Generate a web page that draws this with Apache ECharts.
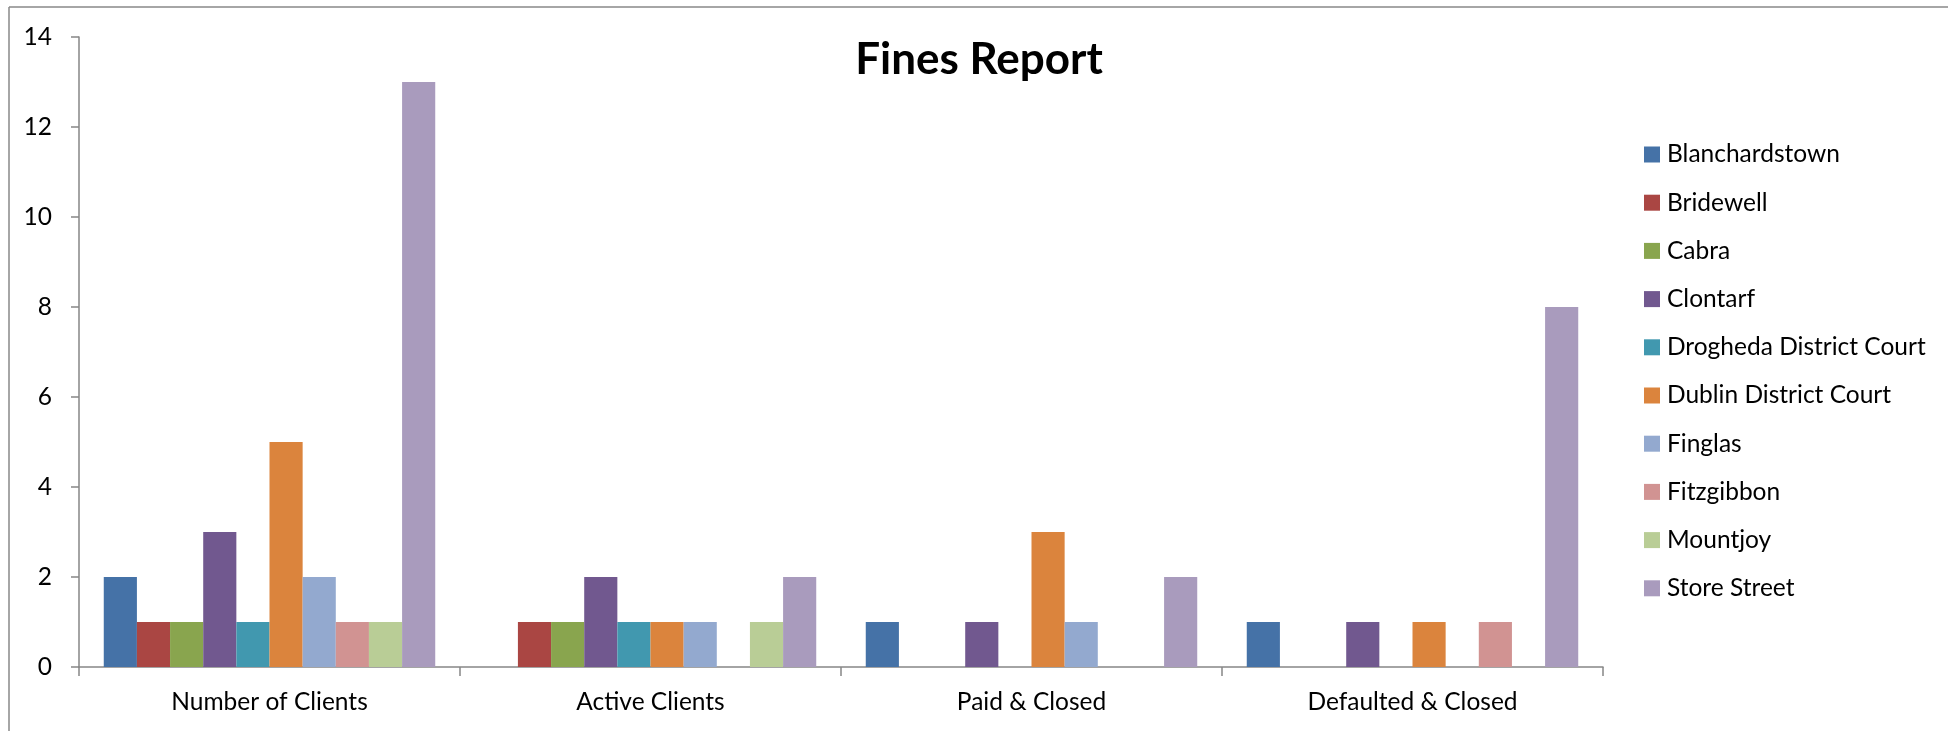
<!DOCTYPE html>
<html>
<head>
<meta charset="utf-8">
<script src="https://cdn.jsdelivr.net/npm/echarts@6/dist/echarts.min.js"></script>
<style>html,body{margin:0;padding:0;background:#fff;}#c{width:1948px;height:731px;}</style>
</head>
<body>
<div id="c"></div>
<script>
const categories = ["Number of Clients", "Active Clients", "Paid & Closed", "Defaulted & Closed"];
const seriesNames = ["Blanchardstown", "Bridewell", "Cabra", "Clontarf", "Drogheda District Court", "Dublin District Court", "Finglas", "Fitzgibbon", "Mountjoy", "Store Street"];
const blanchardstown = [2, 0, 1, 1];
const bridewell = [1, 1, 0, 0];
const cabra = [1, 1, 0, 0];
const clontarf = [3, 2, 1, 1];
const drogheda = [1, 1, 0, 0];
const dublin = [5, 1, 3, 1];
const finglas = [2, 1, 1, 0];
const fitzgibbon = [1, 0, 0, 1];
const mountjoy = [1, 1, 0, 0];
const storeStreet = [13, 2, 2, 8];
const yTicks = [0, 2, 4, 6, 8, 10, 12, 14];
const colors = ["#4572A7", "#AA4643", "#89A54E", "#71588F", "#4198AF", "#DB843D", "#93A9CF", "#D19392", "#B9CD96", "#A99BBD"];

const values = [blanchardstown, bridewell, cabra, clontarf, drogheda, dublin, finglas, fitzgibbon, mountjoy, storeStreet];
const FONT = "Lato, 'Open Sans', sans-serif";

const chart = echarts.init(document.getElementById('c'), null, {renderer: 'canvas'});
chart.setOption({
  animation: false,
  backgroundColor: '#fff',
  color: colors,
  title: {
    text: 'Fines Report',
    left: 979, top: 38, textAlign: 'center', padding: 0,
    textStyle: {fontFamily: FONT, fontWeight: 'bold', fontSize: 44, color: '#000'}
  },
  legend: {
    orient: 'vertical', left: 1644, top: 142, padding: 0,
    itemWidth: 16, itemHeight: 16, itemGap: 23.2,
    icon: 'rect',
    textStyle: {fontFamily: FONT, fontSize: 24.5, color: '#000', padding: [0, 0, 0, 2]},
    data: seriesNames
  },
  grid: {left: 79, right: 345, top: 37, bottom: 64, containLabel: false},
  xAxis: {
    type: 'category', data: categories,
    axisLine: {lineStyle: {color: '#868686', width: 1.5}},
    axisTick: {show: true, length: 9, lineStyle: {color: '#868686', width: 1.5}},
    axisLabel: {fontFamily: FONT, fontSize: 24.5, color: '#000', margin: 23},
    splitLine: {show: false}
  },
  yAxis: {
    type: 'value', min: yTicks[0], max: yTicks[yTicks.length - 1], interval: yTicks[1] - yTicks[0],
    axisLine: {show: true, lineStyle: {color: '#868686', width: 1.5}},
    axisTick: {show: true, length: 8, lineStyle: {color: '#868686', width: 1.5}},
    axisLabel: {fontFamily: FONT, fontSize: 24.5, color: '#000', margin: 27},
    splitLine: {show: false}
  },
  graphic: [
    {type: 'line', shape: {x1: 9, y1: 7, x2: 1948, y2: 7}, style: {stroke: '#888', lineWidth: 1.5}, silent: true},
    {type: 'line', shape: {x1: 9, y1: 7, x2: 9, y2: 731}, style: {stroke: '#888', lineWidth: 1.5}, silent: true}
  ],
  series: seriesNames.map((n, i) => ({
    name: n, type: 'bar', data: values[i],
    barGap: '0%', barCategoryGap: '13%',
    itemStyle: {color: colors[i]}
  }))
});
</script>
</body>
</html>
